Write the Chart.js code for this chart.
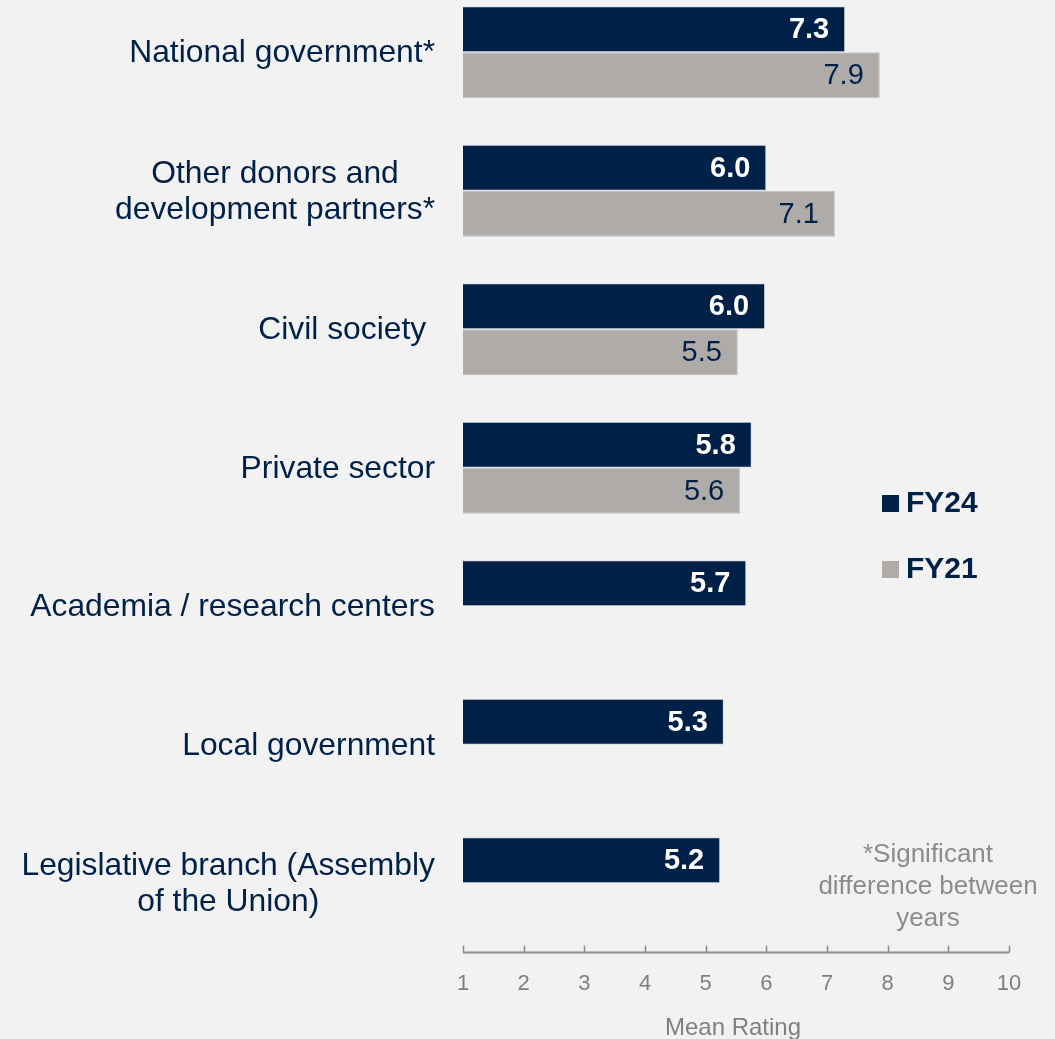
<!DOCTYPE html>
<html>
<head>
<meta charset="utf-8">
<script src="https://cdn.jsdelivr.net/npm/chart.js@4/dist/chart.umd.min.js"></script>
<style>
  html, body { margin: 0; padding: 0; background: #F2F2F2; overflow: hidden; }
  #wrap { position: absolute; left: 0; top: -17px; width: 1055px; height: 1056px; }
</style>
</head>
<body>
<div id="wrap"><canvas id="c" width="1055" height="1056"></canvas></div>
<script>
const categories = [
  ['National government*'],
  ['Other donors and', 'development partners*'],
  ['Civil society '],
  ['Private sector'],
  ['Academia / research centers'],
  ['Local government'],
  ['Legislative branch (Assembly', 'of the Union)']
];
const fy24 = [7.3, 6.0, 5.98, 5.76, 5.67, 5.3, 5.24];
const fy21 = [7.87, 7.13, 5.53, 5.57, null, null, null];
const seriesNames = ['FY24', 'FY21'];
const xTicks = [1, 2, 3, 4, 5, 6, 7, 8, 9, 10];
const axisTitle = 'Mean Rating';
const footnote = ['*Significant', 'difference between', 'years'];

const NAVY = '#002147';
const GRAY = '#AEABA9';
const FONT = "'Liberation Sans', Arial, sans-serif";
const OFF = 17; // canvas is shifted up by this much

const customDraw = {
  id: 'customDraw',
  afterDatasetsDraw(chart) {
    const ctx = chart.ctx;
    const xs = chart.scales.x, ys = chart.scales.y;
    const ca = chart.chartArea;
    ctx.save();
    // value labels
    chart.data.datasets.forEach((ds, di) => {
      const meta = chart.getDatasetMeta(di);
      meta.data.forEach((bar, i) => {
        const v = ds.data[i];
        if (v === null || v === undefined) return;
        ctx.font = (di === 0 ? 'bold ' : '') + '29px ' + FONT;
        ctx.fillStyle = di === 0 ? '#FFFFFF' : NAVY;
        ctx.textAlign = 'right';
        ctx.textBaseline = 'middle';
        ctx.fillText(v.toFixed(1), bar.x - 16, bar.y + 1);
      });
    });
    // category labels
    ctx.font = '31.8px ' + FONT;
    ctx.fillStyle = NAVY;
    ctx.textBaseline = 'middle';
    ctx.textAlign = 'center';
    categories.forEach((lines, i) => {
      const cy = ys.getPixelForValue(i);
      let maxW = 0;
      lines.forEach(l => { maxW = Math.max(maxW, ctx.measureText(l).width); });
      const cx = 435 - maxW / 2;
      const lh = 36;
      const y0 = cy - (lines.length - 1) * lh / 2;
      lines.forEach((l, k) => ctx.fillText(l, cx, y0 + k * lh + 1));
    });
    // axis line with upward ticks
    ctx.strokeStyle = '#8C8C8C';
    ctx.lineWidth = 2;
    const ay = ca.bottom;
    ctx.beginPath();
    ctx.moveTo(xs.getPixelForValue(xTicks[0]), ay);
    ctx.lineTo(xs.getPixelForValue(xTicks[xTicks.length - 1]), ay);
    ctx.stroke();
    ctx.lineWidth = 1.5;
    xTicks.forEach(t => {
      const px = Math.round(xs.getPixelForValue(t)) + 0.5;
      ctx.beginPath();
      ctx.moveTo(px, ay);
      ctx.lineTo(px, ay - 7);
      ctx.stroke();
    });
    // axis title
    ctx.font = '24px ' + FONT;
    ctx.fillStyle = '#7F7F7F';
    ctx.textAlign = 'center';
    ctx.textBaseline = 'middle';
    ctx.fillText(axisTitle, (ca.left + ca.right) / 2 - 3, 1028 + OFF);
    // legend
    const legY = [503.5, 569.5];
    chart.data.datasets.forEach((ds, di) => {
      ctx.fillStyle = ds.backgroundColor;
      ctx.fillRect(882, legY[di] + OFF - 8.5, 17, 17);
      ctx.font = 'bold 30px ' + FONT;
      ctx.fillStyle = NAVY;
      ctx.textAlign = 'left';
      ctx.textBaseline = 'middle';
      ctx.fillText(ds.label, 906, legY[di] + OFF);
    });
    // footnote
    ctx.font = '26px ' + FONT;
    ctx.fillStyle = '#8C8C8C';
    ctx.textAlign = 'center';
    ctx.textBaseline = 'alphabetic';
    footnote.forEach((l, k) => ctx.fillText(l, 928, 862 + k * 32 + OFF));
    ctx.restore();
  }
};

new Chart(document.getElementById('c'), {
  type: 'bar',
  data: {
    labels: categories,
    datasets: [
      { label: seriesNames[0], data: fy24, backgroundColor: NAVY, borderColor: 'rgba(190,195,205,0.55)', borderWidth: 1, borderSkipped: 'start' },
      { label: seriesNames[1], data: fy21, backgroundColor: GRAY, borderColor: '#C4C2C0', borderWidth: 1, borderSkipped: false }
    ]
  },
  options: {
    indexAxis: 'y',
    responsive: false,
    animation: false,
    devicePixelRatio: 1,
    layout: { padding: { left: 463, right: 46, top: 0, bottom: 0 } },
    plugins: { legend: { display: false }, tooltip: { enabled: false } },
    datasets: { bar: { categoryPercentage: 0.664, barPercentage: 1.0 } },
    scales: {
      y: { display: false, offset: true },
      x: {
        min: 1, max: 10,
        grid: { display: false },
        border: { display: false },
        ticks: {
          stepSize: 1,
          padding: 10,
          color: '#7F7F7F',
          font: { family: FONT, size: 22 },
          maxRotation: 0
        },
        afterFit(s) { s.height = 86.4; }
      }
    }
  },
  plugins: [customDraw]
});
</script>
</body>
</html>
